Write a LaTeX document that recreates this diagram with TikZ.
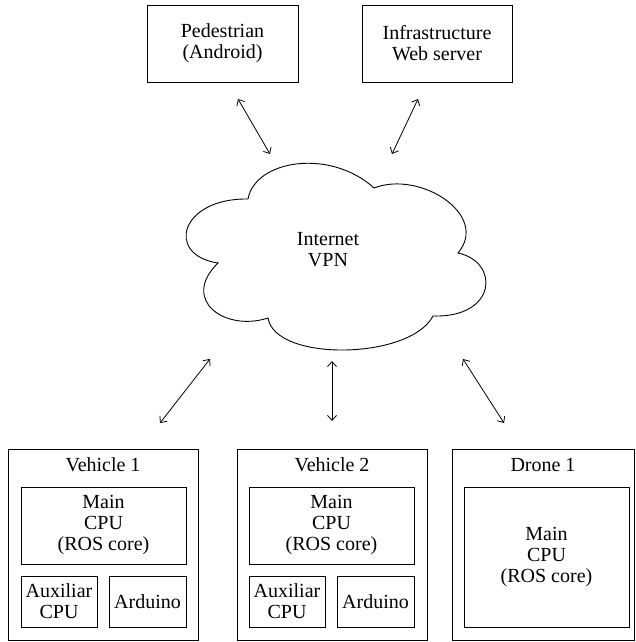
\documentclass[tikz,border=0pt]{standalone}
\usepackage{fontspec}
\setmainfont{Liberation Serif}
\usepackage{tikz}
\usetikzlibrary{arrows.meta,positioning}
\tikzset{>={Straight Barb[length=5pt,width=9pt]}}
\tikzset{
  box/.style={draw, line width=0.9pt, align=center, inner sep=0pt},
  unit/.style={box, minimum width=190pt, minimum height=191pt},
  link/.style={<->, line width=0.8pt},
}

\begin{document}
\begin{tikzpicture}[x=1pt, y=-1pt, font=\fontsize{20}{21}\selectfont]
  \useasboundingbox (0,0) rectangle (635,642);

  % top row
  \node[box, minimum width=151pt, minimum height=77pt] (ped) at (222.5,43.5) {Pedestrian\\(Android)};
  \node[box, minimum width=150pt, minimum height=77pt] (infra) at (437,43.5) {Infrastructure\\Web server};

  % network cloud
  \draw[line width=0.9pt] (248,199)
    .. controls (255,160) and (330,148) .. (374,188)
    .. controls (420,170) and (490,215) .. (458,253)
    .. controls (500,262) and (497,318) .. (433,316)
    .. controls (410,360) and (275,362) .. (268,318)
    .. controls (225,332) and (180,300) .. (218,263)
    .. controls (165,255) and (180,198) .. (248,199) -- cycle;
  \node[align=center] (net) at (328,250) {Internet\\VPN};

  % vehicle 1
  \node[unit] (veh1) at (103,544.5) {};
  \node[anchor=base] (veh1t) at ([yshift=-23pt]veh1.north) {Vehicle 1};
  \node[box, minimum width=165pt, minimum height=77pt] (main1) at (103.5,525.5) {Main\\CPU\\(ROS core)};
  \node[box, minimum width=76pt, minimum height=51pt] (aux1) at (59,601.5) {Auxiliar\\CPU};
  \node[box, minimum width=77pt, minimum height=51pt] (ard1) at (147.5,601.5) {Arduino};

  % vehicle 2
  \node[unit] (veh2) at (332,544.5) {};
  \node[anchor=base] (veh2t) at ([yshift=-23pt]veh2.north) {Vehicle 2};
  \node[box, minimum width=165pt, minimum height=77pt] (main2) at (331.5,525.5) {Main\\CPU\\(ROS core)};
  \node[box, minimum width=76pt, minimum height=51pt] (aux2) at (287,601.5) {Auxiliar\\CPU};
  \node[box, minimum width=77pt, minimum height=51pt] (ard2) at (375.5,601.5) {Arduino};

  % drone
  \node[box, minimum width=182pt, minimum height=191pt] (drone1) at (543,544.5) {};
  \node[anchor=base] (drone1t) at ([yshift=-23pt]drone1.north) {Drone 1};
  \node[box, minimum width=165pt, minimum height=140pt] (main3) at (546.5,557) {Main\\CPU\\(ROS core)};

  % link ends
  \coordinate (ped-a) at (238,99);   \coordinate (net-a) at (270,154);
  \coordinate (infra-a) at (418,99); \coordinate (net-b) at (392,154);
  \coordinate (net-c) at (210,359);  \coordinate (veh1-a) at (160,423);
  \coordinate (net-d) at (332,361);  \coordinate (veh2-a) at (332,421);
  \coordinate (net-e) at (463,359);  \coordinate (drone1-a) at (504,423);

  \draw[link] (ped-a) -- (net-a);
  \draw[link] (infra-a) -- (net-b);
  \draw[link] (net-c) -- (veh1-a);
  \draw[link] (net-d) -- (veh2-a);
  \draw[link] (net-e) -- (drone1-a);
\end{tikzpicture}
\end{document}
